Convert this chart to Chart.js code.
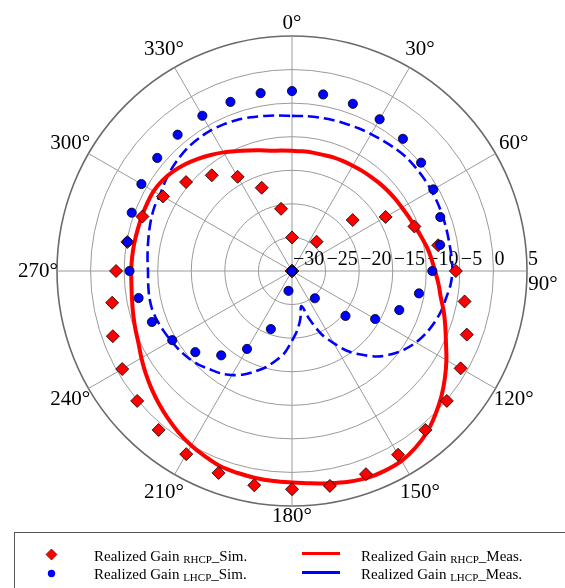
<!DOCTYPE html>
<html>
<head>
<meta charset="utf-8">
<script src="https://cdn.jsdelivr.net/npm/chart.js@4.4.1/dist/chart.umd.min.js"></script>
<style>
  html, body { margin: 0; padding: 0; background: #ffffff; }
  canvas { display: block; }
</style>
</head>
<body>
<canvas id="pattern" width="565" height="588"></canvas>
<script>
// Azimuth grid of the pattern, degrees clockwise from 0° (5° step)
const thetaDeg = [
  0, 5, 10, 15, 20, 25, 30, 35, 40, 45, 50, 55,
  60, 65, 70, 75, 80, 85, 90, 95, 100, 105, 110, 115,
  120, 125, 130, 135, 140, 145, 150, 155, 160, 165, 170, 175,
  180, 185, 190, 195, 200, 205, 210, 215, 220, 225, 230, 235,
  240, 245, 250, 255, 260, 265, 270, 275, 280, 285, 290, 295,
  300, 305, 310, 315, 320, 325, 330, 335, 340, 345, 350, 355
];

// Simulated realized gain (dB), every 10° from 0° to 350°
const rhcpSim = [
  -25.0, -30, -30, -30, -24.3, -18.2, -13.9, -10.6, -7.9, -5.6,
  -3.9, -2.3, -1.0, 0.1, 0.9, 1.6, 2.2, 2.5, 2.5, 2.4,
  2.0, 1.5, 0.9, 0.1, -0.8, -1.6, -2.8, -3.8, -5.1, -6.3,
  -7.8, -9.4, -11.4, -13.8, -16.8, -20.6
];
const lhcpSim = [
  -3.2, -3.3, -3.5, -3.9, -4.3, -4.9, -5.7, -6.5, -7.6, -9.1,
  -10.8, -13.0, -15.7, -19.6, -24.7, -30, -30, -30, -30, -27.0,
  -20.8, -16.6, -13.6, -11.2, -9.4, -7.8, -6.8, -5.8, -5.1, -4.6,
  -4.1, -3.8, -3.5, -3.3, -3.2, -3.1
];

// Measured realized gain (dB), every 5° from 0° to 355°
const rhcpMeas = [
  -12.1, -12.1, -12.1, -12.1, -12.0, -11.95, -11.9, -11.8, -11.7, -11.55, -11.4, -11.25,
  -11.1, -10.85, -10.55, -10.1, -9.6, -9.15, -8.7, -8.1, -7.5, -6.6, -5.7, -4.7,
  -3.45, -2.2, -0.95, 0.2, 1.3, 2.1, 2.65, 2.8, 2.8, 2.5, 2.1, 1.75,
  1.5, 1.4, 1.3, 1.15, 1.0, 0.5, 0.0, -0.6, -1.3, -2.0, -2.7, -3.4,
  -4.1, -4.75, -5.15, -5.5, -5.8, -6.0, -6.05, -6.1, -6.15, -6.2, -6.2, -6.2,
  -6.2, -6.45, -6.9, -7.5, -8.2, -8.9, -9.6, -10.3, -10.9, -11.4, -11.8, -12.0
];
const lhcpMeas = [
  -6.9, -6.85, -6.8, -6.72, -6.65, -6.55, -6.45, -6.33, -6.15, -6.0, -6.0, -6.0,
  -6.03, -6.07, -6.12, -6.17, -6.2, -6.15, -6.1, -6.3, -6.7, -7.0, -7.45, -8.0,
  -8.7, -9.6, -10.7, -12.0, -13.7, -15.4, -17.6, -19.6, -22.3, -24.6, -22.8, -21.1,
  -19.6, -17.8, -16.5, -15.2, -14.1, -13.0, -12.1, -11.4, -10.9, -10.3, -9.85, -9.5,
  -9.2, -8.9, -8.6, -8.4, -8.4, -8.5, -8.55, -8.4, -8.2, -7.95, -7.65, -7.4,
  -7.3, -6.9, -6.5, -6.2, -5.95, -5.85, -5.8, -5.9, -6.05, -6.3, -6.55, -6.75
];

// Axis annotations
const angleTicks = [0, 30, 60, 90, 120, 150, 180, 210, 240, 270, 300, 330];
const radialTicks = [-30, -25, -20, -15, -10, -5, 0, 5];

const legendItems = [
  { main: 'Realized Gain', sub: 'RHCP', tail: '_Sim.',  kind: 'diamond', color: '#ff0000' },
  { main: 'Realized Gain', sub: 'LHCP', tail: '_Sim.',  kind: 'dot',     color: '#0000ff' },
  { main: 'Realized Gain', sub: 'RHCP', tail: '_Meas.', kind: 'line',    color: '#ff0000' },
  { main: 'Realized Gain', sub: 'LHCP', tail: '_Meas.', kind: 'line',    color: '#0000ff' }
];

// Sim samples sit on every second 5° slot of the azimuth grid
function onGrid(values) {
  const out = [];
  values.forEach(v => { out.push(v); out.push(null); });
  return out;
}

const SERIF = '"Liberation Serif", "Times New Roman", serif';

function fmtTick(v) {
  return v < 0 ? '\u2212' + Math.abs(v) : String(v);
}

// Distance of each angle label from the pole, and its nudge
function angleLabelSpot(deg) {
  if (deg === 0) return { r: 248, dx: 0, dy: 0 };
  if (deg === 180) return { r: 245, dx: 0, dy: 0 };
  if (deg === 90) return { r: 251, dx: 0, dy: 13 };
  if (deg === 270) return { r: 254, dx: 0, dy: 0 };
  return { r: 256, dx: 0, dy: 0 };
}

const polarText = {
  id: 'polarText',
  beforeDatasetsDraw(chart) {
    const s = chart.scales.r;
    const ctx = chart.ctx;
    ctx.save();
    ctx.fillStyle = '#000';
    ctx.font = '20px ' + SERIF;
    ctx.textAlign = 'left';
    ctx.textBaseline = 'alphabetic';
    radialTicks.forEach(v => {
      const d = s.getDistanceFromCenterForValue(v);
      ctx.fillText(fmtTick(v), s.xCenter + d + 1, s.yCenter - 6);
    });
    ctx.restore();
  },
  afterDraw(chart) {
    const s = chart.scales.r;
    const ctx = chart.ctx;
    ctx.save();
    ctx.fillStyle = '#000';
    ctx.font = '21px ' + SERIF;
    ctx.textAlign = 'center';
    ctx.textBaseline = 'middle';
    angleTicks.forEach(deg => {
      const spot = angleLabelSpot(deg);
      const a = deg * Math.PI / 180;
      const x = s.xCenter + spot.r * Math.sin(a) + spot.dx;
      const y = s.yCenter - spot.r * Math.cos(a) + spot.dy;
      ctx.fillText(deg + '\u00b0', x, y);
    });

    // Legend box
    ctx.strokeStyle = '#555';
    ctx.lineWidth = 1;
    ctx.strokeRect(14.5, 532.5, 620, 120);

    const cols = [{ sym: 51.5, text: 94 }, { sym: 321, text: 361 }];
    const rows = [{ y: 554.5, base: 561 }, { y: 573.5, base: 579 }];
    legendItems.forEach((it, i) => {
      const col = cols[Math.floor(i / 2)];
      const row = rows[i % 2];
      ctx.save();
      if (it.kind === 'diamond') {
        ctx.beginPath();
        ctx.moveTo(col.sym, row.y - 5.5);
        ctx.lineTo(col.sym + 5.5, row.y);
        ctx.lineTo(col.sym, row.y + 5.5);
        ctx.lineTo(col.sym - 5.5, row.y);
        ctx.closePath();
        ctx.fillStyle = it.color;
        ctx.fill();
        ctx.strokeStyle = '#600';
        ctx.lineWidth = 0.7;
        ctx.stroke();
      } else if (it.kind === 'dot') {
        ctx.beginPath();
        ctx.arc(col.sym, row.y, 3.7, 0, Math.PI * 2);
        ctx.fillStyle = it.color;
        ctx.fill();
      } else {
        ctx.beginPath();
        ctx.moveTo(col.sym - 19, row.y - 1);
        ctx.lineTo(col.sym + 19, row.y - 1);
        ctx.strokeStyle = it.color;
        ctx.lineWidth = 3;
        ctx.stroke();
      }
      ctx.restore();

      ctx.textAlign = 'left';
      ctx.textBaseline = 'alphabetic';
      let x = col.text;
      ctx.font = '15px ' + SERIF;
      ctx.fillText(it.main + ' ', x, row.base);
      x += ctx.measureText(it.main + ' ').width;
      ctx.font = '11px ' + SERIF;
      ctx.fillText(it.sub, x, row.base + 1.5);
      x += ctx.measureText(it.sub).width;
      ctx.font = '15px ' + SERIF;
      ctx.fillText(it.tail, x, row.base);
    });
    ctx.restore();
  }
};

new Chart(document.getElementById('pattern'), {
  type: 'radar',
  data: {
    labels: thetaDeg,
    datasets: [
      {
        label: 'Realized Gain LHCP_Sim.',
        data: onGrid(lhcpSim),
        showLine: false,
        pointStyle: 'circle',
        pointRadius: 4.6,
        pointBackgroundColor: '#0000ff',
        pointBorderColor: '#000',
        pointBorderWidth: 0.8,
        order: 0
      },
      {
        label: 'Realized Gain RHCP_Sim.',
        data: onGrid(rhcpSim),
        showLine: false,
        pointStyle: 'rectRot',
        pointRadius: 6.5,
        pointBackgroundColor: '#ff0000',
        pointBorderColor: '#000',
        pointBorderWidth: 0.8,
        order: 1
      },
      {
        label: 'Realized Gain RHCP_Meas.',
        data: rhcpMeas,
        borderColor: '#ff0000',
        borderWidth: 4,
        pointRadius: 0,
        fill: false,
        tension: 0.35,
        order: 2
      },
      {
        label: 'Realized Gain LHCP_Meas.',
        data: lhcpMeas,
        borderColor: '#0000ff',
        borderWidth: 2.6,
        borderDash: [11, 5],
        pointRadius: 0,
        fill: false,
        tension: 0.3,
        order: 3
      }
    ]
  },
  options: {
    responsive: false,
    animation: false,
    devicePixelRatio: 1,
    layout: { padding: { left: 57, right: 38, top: 36, bottom: 82 } },
    plugins: {
      legend: { display: false },
      tooltip: { enabled: false }
    },
    scales: {
      r: {
        min: -30,
        max: 5,
        startAngle: 0,
        ticks: { display: false, stepSize: 5 },
        pointLabels: { display: false },
        grid: {
          circular: true,
          color: c => (c.tick && c.tick.value === 5) ? '#6a6a6a' : '#9a9a9a',
          lineWidth: c => (c.tick && c.tick.value === 5) ? 1.6 : 1
        },
        angleLines: {
          color: '#9a9a9a',
          lineWidth: c => (c.index % 6 === 0) ? 1 : 0
        }
      }
    }
  },
  plugins: [polarText]
});
</script>
</body>
</html>
